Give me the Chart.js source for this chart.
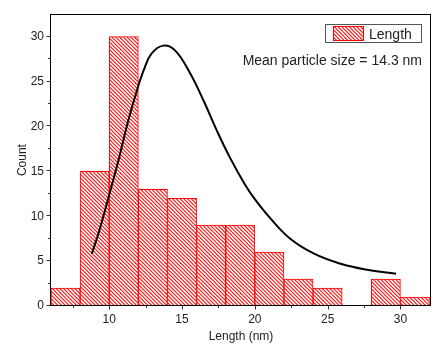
<!DOCTYPE html>
<html lang="en">

<head>
    <meta charset="UTF-8">
    <title>Length histogram</title>
    <script src="https://cdn.jsdelivr.net/npm/chart.js"></script>
    <style>
        html, body {
            margin: 0;
            padding: 0;
            background: #fff;
        }

        #box {
            width: 437px;
            height: 344px;
            position: relative;
        }
    </style>
</head>

<body>
    <div id="box">
        <canvas id="grafico"></canvas>
    </div>

    <script>
    // bins of 2 nm (centre of each bin) and their counts
    var binCentros = [7, 9, 11, 13, 15, 17, 19, 21, 23, 25, 27, 29, 31];
    var contagens = [2, 15, 30, 13, 12, 9, 9, 6, 3, 2, 0, 3, 1];

    // fitted curve
    var curvaX = [8.8, 9.3, 9.9, 10.6, 11.3, 11.9, 12.4, 12.9, 13.7, 14.5, 15.5, 16.5, 17.4, 18.3, 19.3, 20.0, 21.1, 22.5, 24.1, 25.9, 27.5, 29.7];
    var curvaY = [5.8, 8.3, 11.8, 16.0, 20.6, 24.0, 26.4, 28.1, 29.0, 28.5, 26.1, 22.8, 19.5, 16.5, 13.6, 11.9, 9.7, 7.4, 5.8, 4.7, 4.1, 3.6];

    var xTicks = [10, 15, 20, 25, 30];
    var xMinor = [7.5, 12.5, 17.5, 22.5, 27.5];
    var yTicks = [0, 5, 10, 15, 20, 25, 30];
    var yMinor = [2.5, 7.5, 12.5, 17.5, 22.5, 27.5];

    var fonte = 'Arial, "Liberation Sans", sans-serif';

    // red "\\\" hatch like the Origin pattern
    function criarHachura() {
        var t = 15;
        var c = document.createElement('canvas');
        c.width = t;
        c.height = t;
        var g = c.getContext('2d');
        g.fillStyle = '#fff';
        g.fillRect(0, 0, t, t);
        g.strokeStyle = '#ff0a0a';
        g.lineWidth = 1.1;
        for (var k = -5; k <= 5; k++) {
            var o = k * 3.75;
            g.beginPath();
            g.moveTo(o - 1, -1);
            g.lineTo(o + t + 1, t + 1);
            g.stroke();
        }
        return g.createPattern(c, 'repeat');
    }

    var hachura = criarHachura();

    var barras = [];
    for (var i = 0; i < binCentros.length; i++) {
        barras.push({ x: binCentros[i], y: contagens[i] });
    }
    var curva = [];
    for (var j = 0; j < curvaX.length; j++) {
        curva.push({ x: curvaX[j], y: curvaY[j] });
    }

    // frame, tick marks, legend and the mean label
    var molduraPlugin = {
        id: 'moldura',
        afterDraw: function (chart) {
            var ctx = chart.ctx;
            var a = chart.chartArea;
            var sx = chart.scales.x;
            var sy = chart.scales.y;
            ctx.save();
            ctx.strokeStyle = '#000';
            ctx.lineWidth = 1;
            ctx.strokeRect(Math.round(a.left) - 0.5, Math.round(a.top) + 0.5,
                Math.round(a.right - a.left), Math.round(a.bottom - a.top) - 1);

            ctx.strokeStyle = '#333';
            function marca(x1, y1, x2, y2) {
                ctx.beginPath();
                ctx.moveTo(x1, y1);
                ctx.lineTo(x2, y2);
                ctx.stroke();
            }
            var base = Math.round(a.bottom) - 0.5;
            var esq = Math.round(a.left) - 0.5;
            xTicks.forEach(function (v) {
                var px = Math.round(sx.getPixelForValue(v)) + 0.5;
                marca(px, base, px, base + 4);
            });
            xMinor.forEach(function (v) {
                var px = Math.round(sx.getPixelForValue(v)) + 0.5;
                marca(px, base, px, base + 2.5);
            });
            yTicks.forEach(function (v) {
                var py = Math.round(sy.getPixelForValue(v)) - 0.5;
                marca(esq, py, esq - 4, py);
            });
            yMinor.forEach(function (v) {
                var py = Math.round(sy.getPixelForValue(v)) - 0.5;
                marca(esq, py, esq - 2.5, py);
            });

            // legend box
            ctx.strokeStyle = '#555';
            ctx.strokeRect(325.5, 24.5, 96, 18);
            ctx.fillStyle = hachura;
            ctx.fillRect(333, 26, 31, 15);
            ctx.strokeStyle = '#ff0000';
            ctx.strokeRect(333.5, 26.5, 30, 14);
            ctx.fillStyle = '#222';
            ctx.font = '14px ' + fonte;
            ctx.textAlign = 'left';
            ctx.textBaseline = 'alphabetic';
            ctx.fillText('Length', 369, 39);

            ctx.textAlign = 'right';
            ctx.fillText('Mean particle size = 14.3 nm', 422, 65);
            ctx.restore();
        }
    };

    var grafico = new Chart(document.getElementById('grafico').getContext('2d'), {
        type: 'bar',
        data: {
            datasets: [{
                type: 'bar',
                label: 'Length',
                data: barras,
                backgroundColor: hachura,
                borderColor: '#ff0000',
                borderWidth: 1,
                borderSkipped: false,
                barPercentage: 1,
                categoryPercentage: 1,
                order: 2
            }, {
                type: 'line',
                label: 'Fit',
                data: curva,
                borderColor: '#000',
                borderWidth: 2,
                pointRadius: 0,
                fill: false,
                tension: 0.4,
                order: 1
            }]
        },
        options: {
            responsive: true,
            maintainAspectRatio: false,
            animation: false,
            devicePixelRatio: 1,
            layout: {
                padding: { left: 0, right: 6, top: 13, bottom: 0 }
            },
            plugins: {
                legend: { display: false },
                tooltip: { enabled: false }
            },
            scales: {
                x: {
                    type: 'linear',
                    min: 6,
                    max: 32.1,
                    offset: false,
                    grid: { display: false, drawTicks: false },
                    border: { display: false },
                    afterBuildTicks: function (scale) {
                        scale.ticks = xTicks.map(function (v) { return { value: v }; });
                    },
                    afterFit: function (scale) {
                        scale.height = 38;
                    },
                    ticks: {
                        padding: 6,
                        color: '#222',
                        font: { family: fonte, size: 12 },
                        maxRotation: 0
                    },
                    title: {
                        display: true,
                        text: 'Length (nm)',
                        color: '#222',
                        font: { family: fonte, size: 12 },
                        padding: { top: 0, bottom: 0 }
                    }
                },
                y: {
                    min: 0,
                    max: 32.5,
                    grid: { display: false, drawTicks: false },
                    border: { display: false },
                    afterBuildTicks: function (scale) {
                        scale.ticks = yTicks.map(function (v) { return { value: v }; });
                    },
                    afterFit: function (scale) {
                        scale.width = 51;
                    },
                    ticks: {
                        padding: 7,
                        color: '#222',
                        font: { family: fonte, size: 12 }
                    },
                    title: {
                        display: true,
                        text: 'Count',
                        color: '#222',
                        font: { family: fonte, size: 12 },
                        padding: { top: 15, bottom: 0 }
                    }
                }
            }
        },
        plugins: [molduraPlugin]
    });
    </script>

</body>

</html>
